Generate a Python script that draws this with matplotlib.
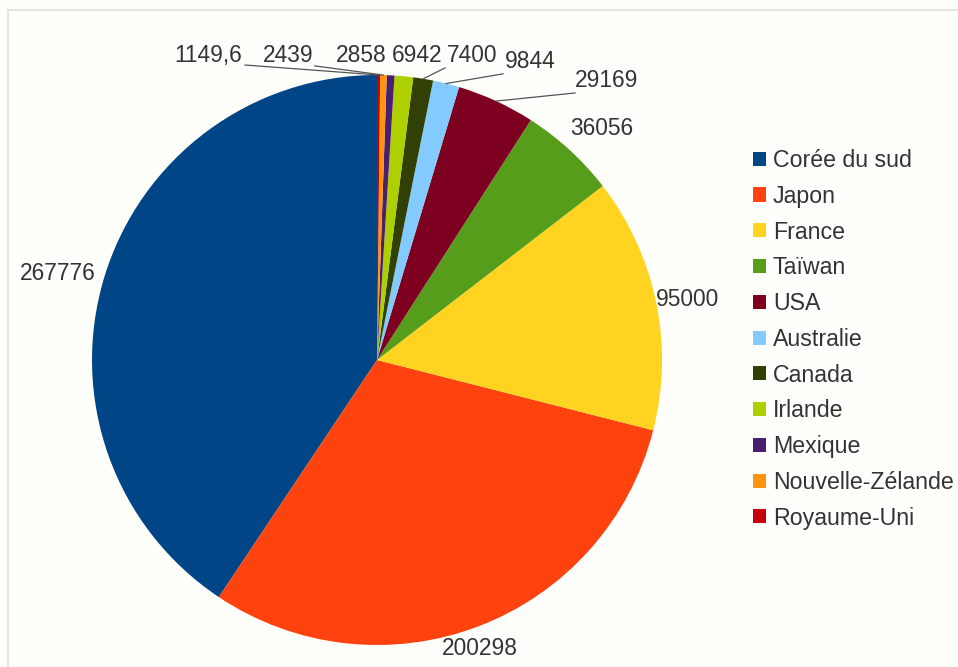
import matplotlib.pyplot as plt
import numpy as np
from matplotlib.lines import Line2D
from matplotlib.patches import Patch

plt.rcParams['font.family'] = ['Liberation Sans', 'DejaVu Sans']

countries = ['Corée du sud', 'Japon', 'France', 'Taïwan', 'USA', 'Australie',
             'Canada', 'Irlande', 'Mexique', 'Nouvelle-Zélande', 'Royaume-Uni']
values = [267776, 200298, 95000, 36056, 29169, 9844, 7400, 6942, 2858, 2439, 1149.6]
value_labels = ['267776', '200298', '95000', '36056', '29169', '9844',
                '7400', '6942', '2858', '2439', '1149,6']
colors = ['#004586', '#ff420e', '#ffd320', '#579d1c', '#7e0021', '#83caff',
          '#314004', '#aecf00', '#4b1f6f', '#ff950e', '#c5000b']

# where each value label sits (pie data coords, radius = 1)
label_pos = [(-1.119, 0.302), (0.361, -1.014), (1.091, 0.211), (0.789, 0.814),
             (0.807, 0.982), (0.537, 1.049), (0.333, 1.070), (0.140, 1.070),
             (-0.056, 1.070), (-0.312, 1.070), (-0.593, 1.070)]
# start of leader line, None = no line
leader_start = [None, None, None, None, (0.695, 0.937), (0.442, 1.004),
                (0.239, 1.025), None, None, (-0.218, 1.032), (-0.463, 1.035)]

bg = '#fefefb'
fig = plt.figure(figsize=(9.58, 6.67), dpi=100, facecolor=bg)
ax = fig.add_axes([92 / 958, 22 / 667, 570 / 958, 570 / 667])
ax.set_facecolor(bg)

wedges, _ = ax.pie(values, colors=colors, startangle=90, counterclock=True,
                   wedgeprops=dict(linewidth=0))
ax.set_xlim(-1, 1)
ax.set_ylim(-1, 1)
ax.set_aspect('equal')
ax.axis('off')

for w, lab, pos, st in zip(wedges, value_labels, label_pos, leader_start):
    ang = np.deg2rad((w.theta1 + w.theta2) / 2)
    ax.text(pos[0], pos[1], lab, ha='center', va='center', fontsize=16.4,
            color='#333333', clip_on=False)
    if st is not None:
        ax.plot([st[0], np.cos(ang)], [st[1], np.sin(ang)], color='#555555',
                lw=0.9, clip_on=False)

handles = [Patch(facecolor=c, edgecolor='none') for c in colors]
leg = fig.legend(handles, countries, loc='upper left',
                 bbox_to_anchor=(753 / 958, 1 - 149 / 667), frameon=False,
                 fontsize=16.7, labelspacing=0.55, handlelength=0.56,
                 handleheight=0.56, handletextpad=0.3, borderpad=0,
                 borderaxespad=0)
for t in leg.get_texts():
    t.set_color('#333333')

# faint frame of the original screenshot
fig.add_artist(Line2D([8 / 958, 1], [1 - 10 / 667, 1 - 10 / 667], color='#e2e2d8', lw=1.2))
fig.add_artist(Line2D([8 / 958, 8 / 958], [0, 1 - 10 / 667], color='#e2e2d8', lw=1.2))

fig.savefig('out.png', dpi=100, facecolor=bg)
